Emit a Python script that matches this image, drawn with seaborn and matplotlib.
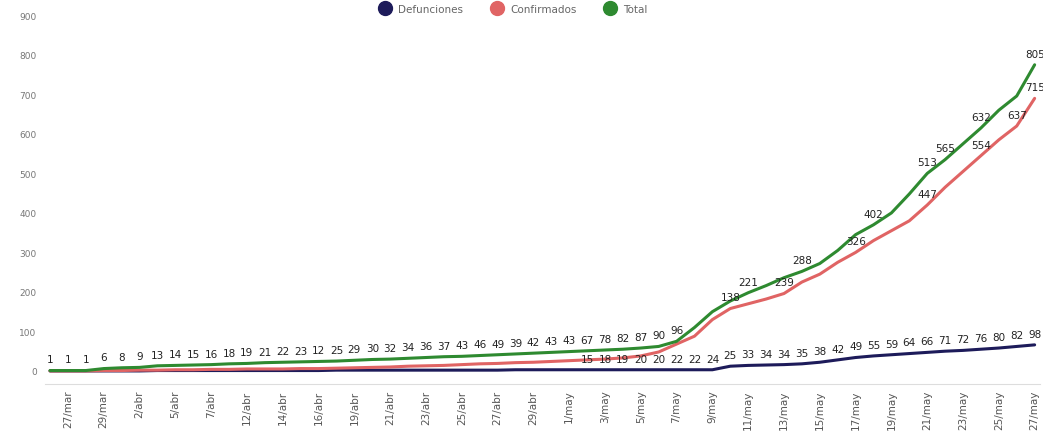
import numpy as np
import pandas as pd
import matplotlib
matplotlib.use("Agg")
import matplotlib.pyplot as plt
from matplotlib.lines import Line2D
import seaborn as sns

# Fechas (categorias del eje x)
fechas = ["26/mar", "27/mar", "28/mar", "29/mar", "31/mar", "2/abr", "4/abr", "5/abr",
          "6/abr", "7/abr", "9/abr", "12/abr", "13/abr", "14/abr", "15/abr", "16/abr",
          "18/abr", "19/abr", "20/abr", "21/abr", "22/abr", "23/abr", "24/abr", "25/abr",
          "26/abr", "27/abr", "28/abr", "29/abr", "30/abr",
          "1/may", "2/may", "3/may", "4/may", "5/may", "6/may", "7/may", "8/may", "9/may",
          "10/may", "11/may", "12/may", "13/may", "14/may", "15/may", "16/may", "17/may",
          "18/may", "19/may", "20/may", "21/may", "22/may", "23/may", "24/may", "25/may",
          "26/may", "27/may"]

# Series
defunciones = [0, 0, 0, 0, 0, 0, 1, 1, 1, 1, 1, 1, 1, 1, 1, 1, 2, 2, 2, 2, 2, 2, 2, 2, 2, 2,
               3, 3, 3, 3, 3, 3, 3, 3, 3, 3, 3, 3,
               12, 14, 15, 16, 18, 22, 28, 34, 38, 41, 44, 47, 50, 52, 55, 58, 62, 66]
confirmados = [0, 0, 0, 1, 1, 2, 2, 3, 3, 4, 4, 5, 5, 5, 6, 6, 7, 8, 9, 10, 12, 13, 14, 16,
               18, 19, 21, 22, 24, 26, 28, 30, 33, 38,
               48, 68, 88, 130, 158, 170, 182, 196, 225, 245, 275, 300, 330, 355, 380, 420,
               465, 505, 545, 585, 620, 690]
total = [1, 1, 1, 6, 8, 9, 13, 14, 15, 16, 18, 19, 21, 22, 23, 24, 25, 27, 29, 30, 32, 34,
         36, 37, 39, 41, 43, 45, 47, 49, 51, 53, 55, 58,
         62, 75, 110, 150, 177, 198, 216, 236, 252, 272, 305, 345, 370, 400, 448, 500, 535,
         575, 615, 660, 696, 775]

# Etiquetas de datos
etq_total_ini = ["1", "1", "1", "6", "8", "9", "13", "14", "15", "16", "18", "19", "21", "22",
                 "23", "12", "25", "29", "30", "32", "34", "36", "37", "43", "46", "49", "39",
                 "42", "43", "43", "67", "78", "82", "87", "90", "96"]
etq_def = ["15", "18", "19", "20", "20", "22", "22", "24", "25", "33", "34", "34", "35", "38",
           "42", "49", "55", "59", "64", "66", "71", "72", "76", "80", "82", "98"]
idx_total_sup = [39, 42, 46, 49, 50, 52, 55]
etq_total_sup = ["221", "288", "402", "513", "565", "632", "805"]
idx_conf_sup = [38, 41, 45, 49, 52, 54, 55]
etq_conf_sup = ["138", "239", "326", "447", "554", "637", "715"]

series = ["Defunciones", "Confirmados", "Total"]
colores = {"Defunciones": "#1d1b5a", "Confirmados": "#e06464", "Total": "#2e8a30"}

n = len(fechas)
df = pd.DataFrame({
    "pos": list(range(n)) * 3,
    "valor": defunciones + confirmados + total,
    "serie": ["Defunciones"] * n + ["Confirmados"] * n + ["Total"] * n,
})

sns.set_style("white")
fig = plt.figure(figsize=(10.43, 4.35), dpi=100)
ax = fig.add_axes([45 / 1043, 0.115, 995 / 1043, 0.86])

sns.lineplot(data=df, x="pos", y="valor", hue="serie", palette=colores,
             linewidth=2.2, legend=False, ax=ax)

# Etiquetas sobre las lineas
def etiquetar(indices, textos, valores):
    for i, t in zip(indices, textos):
        ax.annotate(t, (i, valores[i]), xytext=(0, 8), textcoords="offset points",
                    ha="center", va="center", fontsize=7.5, color="#222222")

etiquetar(range(len(etq_total_ini)), etq_total_ini, total)
etiquetar(range(30, 30 + len(etq_def)), etq_def, defunciones)
etiquetar(idx_total_sup, etq_total_sup, total)
etiquetar(idx_conf_sup, etq_conf_sup, confirmados)

ax.set_xlim(-0.28, n - 0.7)
ax.set_ylim(-33, 914)
ax.set_yticks(range(0, 901, 100))
ax.set_xticks(range(1, n, 2))
ax.set_xticklabels([fechas[i] for i in range(1, n, 2)], rotation=90)
ax.tick_params(axis="x", labelsize=7.5, colors="#555555", length=0, pad=4)
ax.tick_params(axis="y", labelsize=6.5, colors="#777777", length=0, pad=6)
ax.set_xlabel("")
ax.set_ylabel("")
for s in ["top", "right", "left"]:
    ax.spines[s].set_visible(False)
ax.spines["bottom"].set_color("#dddddd")

handles = [Line2D([0], [0], marker="o", linestyle="", markersize=10,
                  markerfacecolor=colores[s], markeredgecolor=colores[s]) for s in series]
fig.legend(handles, series, loc="center", bbox_to_anchor=(0.49, 0.978), ncol=3,
           frameon=False, fontsize=7.5, labelcolor="#666666", handletextpad=0.3,
           columnspacing=2.2)

fig.savefig("out.png", dpi=100)
